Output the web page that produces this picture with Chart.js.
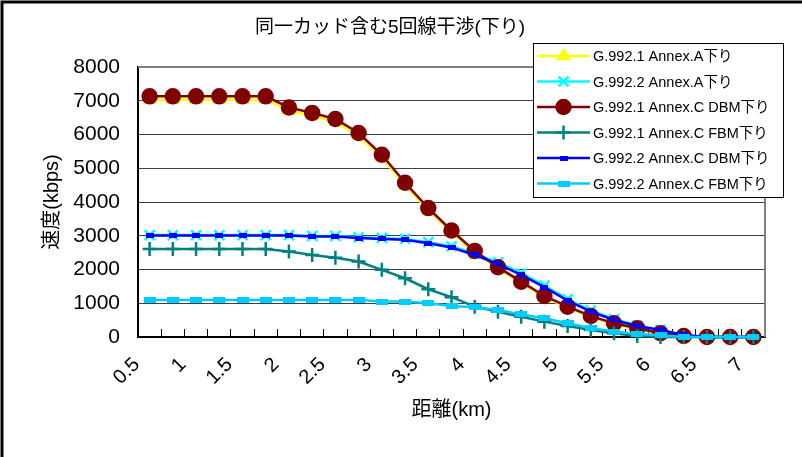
<!DOCTYPE html>
<html>
<head>
<meta charset="utf-8">
<script src="https://cdn.jsdelivr.net/npm/chart.js@4.4.1/dist/chart.umd.min.js"></script>
<style>
  html, body { margin: 0; padding: 0; background: #fff; }
</style>
</head>
<body>
<canvas id="chart" width="802" height="457"></canvas>
<script>
const titleText = '同一カッド含む5回線干渉(下り)';

const distances = ['0.5', '0.75', '1', '1.25', '1.5', '1.75', '2', '2.25', '2.5', '2.75', '3', '3.25', '3.5', '3.75',
  '4', '4.25', '4.5', '4.75', '5', '5.25', '5.5', '5.75', '6', '6.25', '6.5', '6.75', '7'];

const seriesNames = ['G.992.1 Annex.A下り', 'G.992.2 Annex.A下り', 'G.992.1 Annex.C DBM下り',
  'G.992.1 Annex.C FBM下り', 'G.992.2 Annex.C DBM下り', 'G.992.2 Annex.C FBM下り'];

const g9921A = [7030, 7030, 7030, 7030, 7030, 7030, 6710, 6560, 6380, 5960, 5320, 4500, 3760, 3100,
  2500, 2020, 1600, 1180, 870, 600, 380, 240, 90, 10, 0, 0, 0];
const g9922A = [3020, 3020, 3020, 3020, 3020, 3020, 3020, 2995, 2995, 2955, 2935, 2905, 2810, 2690,
  2470, 2210, 1890, 1520, 1120, 785, 530, 340, 210, 60, 0, 0, 0];
const g9921C_DBM = [7130, 7130, 7130, 7130, 7130, 7130, 6800, 6640, 6460, 6045, 5400, 4570, 3820, 3155,
  2550, 2070, 1640, 1215, 900, 623, 405, 258, 110, 30, 0, 0, 0];
const g9921C_FBM = [2610, 2610, 2610, 2610, 2610, 2610, 2530, 2430, 2350, 2235, 1990, 1740, 1415, 1180,
  900, 750, 600, 455, 326, 208, 110, 30, 0, 0, 0, 0, 0];
const g9922C_DBM = [3005, 3005, 3005, 3005, 3005, 3005, 3005, 2975, 2975, 2930, 2905, 2880, 2780, 2650,
  2430, 2165, 1840, 1475, 1080, 750, 505, 326, 208, 60, 0, 0, 0];
const g9922C_FBM = [1100, 1100, 1100, 1100, 1100, 1100, 1100, 1100, 1100, 1100, 1050, 1050, 1000, 920,
  880, 800, 670, 555, 405, 258, 160, 90, 50, 0, 0, 0, 0];

const FONT = '"Liberation Sans", Arial, "Noto Sans CJK JP", sans-serif';

// small flat bar markers like Excel's dash markers
function bar(w, h, color) {
  const c = document.createElement('canvas');
  c.width = w; c.height = h;
  const g = c.getContext('2d');
  g.fillStyle = color;
  g.fillRect(0, 0, w, h);
  return c;
}

function series(label, data, color, style, radius, order) {
  return {
    label: label,
    data: data,
    borderColor: color,
    backgroundColor: color,
    pointBackgroundColor: color,
    pointBorderColor: color,
    borderWidth: 2.5,
    pointStyle: style,
    pointRadius: radius,
    pointBorderWidth: 2.5,
    tension: 0,
    clip: false,
    order: order,
  };
}

const datasets = [
  series(seriesNames[0], g9921A, '#FFFF00', 'triangle', 6, 6),
  series(seriesNames[1], g9922A, '#00FFFF', 'crossRot', 7, 5),
  series(seriesNames[2], g9921C_DBM, '#800000', 'circle', 7, 4),
  series(seriesNames[3], g9921C_FBM, '#008080', 'cross', 7, 3),
  series(seriesNames[4], g9922C_DBM, '#0000FF', bar(8, 5, '#0000FF'), 4, 2),
  series(seriesNames[5], g9922C_FBM, '#00CCFF', bar(12, 6, '#00CCFF'), 5, 1),
];

const decor = {
  id: 'decor',
  beforeDraw(chart) {
    const ctx = chart.ctx;
    ctx.save();
    ctx.fillStyle = '#fff';
    ctx.fillRect(0, 0, chart.width, chart.height);
    ctx.restore();
  },
  afterDraw(chart) {
    const ctx = chart.ctx;
    const a = chart.chartArea;
    ctx.save();

    // gray top/right edge of plot area
    ctx.strokeStyle = '#808080';
    ctx.lineWidth = 2;
    ctx.beginPath();
    ctx.moveTo(a.left, a.top);
    ctx.lineTo(a.right, a.top);
    ctx.lineTo(a.right, a.bottom);
    ctx.stroke();

    // title
    ctx.fillStyle = '#000';
    ctx.font = '19px ' + FONT;
    ctx.textAlign = 'center';
    ctx.textBaseline = 'middle';
    ctx.fillText(titleText, 390, 28);

    // legend box
    const lx = 533, ly = 43, lw = 250, lh = 154;
    ctx.fillStyle = '#fff';
    ctx.fillRect(lx, ly, lw, lh);
    ctx.strokeStyle = '#000';
    ctx.lineWidth = 1;
    ctx.strokeRect(lx + 0.5, ly + 0.5, lw, lh);

    ctx.font = '14.5px ' + FONT;
    ctx.textAlign = 'left';
    chart.data.datasets.forEach((ds, i) => {
      const y = 56 + i * 25.5;
      ctx.strokeStyle = ds.borderColor;
      ctx.lineWidth = 2.5;
      ctx.beginPath();
      ctx.moveTo(537, y);
      ctx.lineTo(590, y);
      ctx.stroke();
      ctx.fillStyle = ds.pointBackgroundColor;
      ctx.strokeStyle = ds.pointBorderColor;
      ctx.lineWidth = ds.pointBorderWidth;
      Chart.helpers.drawPoint(ctx, {
        pointStyle: ds.pointStyle, radius: ds.pointRadius, rotation: 0, borderWidth: ds.pointBorderWidth
      }, 563.5, y);
      ctx.fillStyle = '#000';
      ctx.fillText(ds.label, 593, y + 1);
    });

    // outer frame (top and left only visible)
    ctx.strokeStyle = '#000';
    ctx.lineWidth = 3;
    ctx.beginPath();
    ctx.moveTo(2, chart.height);
    ctx.lineTo(2, 2);
    ctx.lineTo(chart.width, 2);
    ctx.stroke();
    ctx.restore();
  }
};

new Chart(document.getElementById('chart'), {
  type: 'line',
  data: { labels: distances, datasets: datasets },
  plugins: [decor],
  options: {
    responsive: false,
    animation: false,
    devicePixelRatio: 1,
    layout: { padding: { left: 40, right: 37, top: 67, bottom: 35 } },
    plugins: {
      legend: { display: false },
      title: { display: false },
      tooltip: { enabled: false },
    },
    scales: {
      x: {
        offset: true,
        grid: { offset: true, drawOnChartArea: false, tickLength: -8, color: '#000', lineWidth: 1 },
        border: { color: '#000', width: 2 },
        ticks: {
          autoSkip: false,
          minRotation: 45,
          maxRotation: 45,
          padding: 24,
          labelOffset: -13,
          color: '#000',
          font: { family: FONT, size: 20 },
          callback: function (v, i) { return i % 2 === 0 ? this.getLabelForValue(v) : ''; },
        },
        title: { display: true, text: '距離(km)', color: '#000', font: { family: FONT, size: 20 }, padding: 0 },
        afterFit: (s) => { s.height = 85; },
      },
      y: {
        min: 0,
        max: 8000,
        ticks: {
          stepSize: 1000,
          padding: 18,
          color: '#000',
          font: { family: FONT, size: 21 },
          callback: (v) => String(v),
        },
        grid: { color: '#404040', lineWidth: 1, drawTicks: false },
        border: { color: '#000', width: 2 },
        title: { display: true, text: '速度(kbps)', color: '#000', font: { family: FONT, size: 20 }, padding: 0 },
        afterFit: (s) => { s.width = 98; },
      },
    },
  },
});
</script>
</body>
</html>
